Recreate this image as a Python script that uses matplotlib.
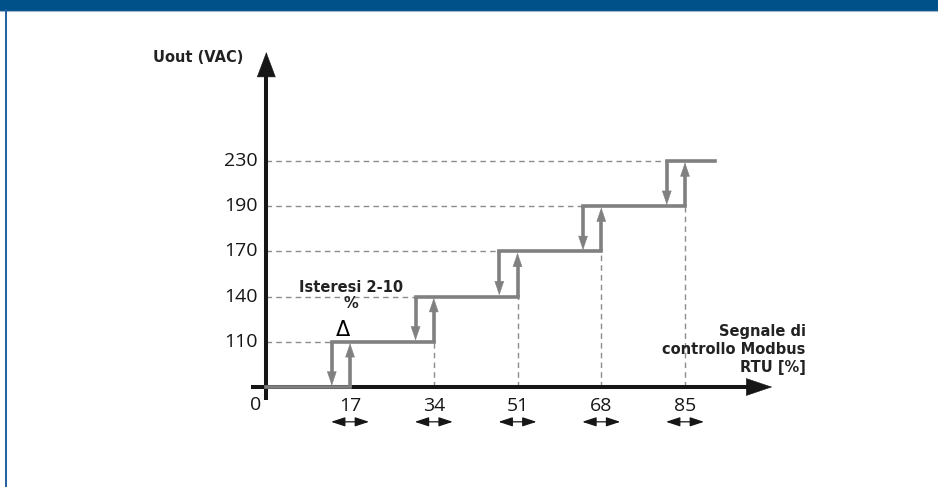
import matplotlib
matplotlib.use("Agg")
import matplotlib.pyplot as plt
from matplotlib.patches import Rectangle
from matplotlib.lines import Line2D

# data
level_labels = ["0", "110", "140", "170", "190", "230"]   # Uout (VAC) per step
switch_on = [17, 34, 51, 68, 85]                         # rising thresholds (%)
hyst = 3.7                                               # hysteresis offset (%)
x_end = 91                                               # end of last step (%)

grey = "#808080"
dash_grey = "#8c8c8c"
black = "#161616"

fig = plt.figure(figsize=(9.38, 4.87), dpi=100)

# header bar and left border
fig.patches.append(Rectangle((0, 1 - 10 / 487), 1, 10 / 487, transform=fig.transFigure,
                             color="#00508a", zorder=0))
fig.lines.append(Line2D([0, 1], [1 - 10.5 / 487] * 2, transform=fig.transFigure,
                        color="#9fb7cc", lw=0.8))
fig.lines.append(Line2D([6.2 / 938] * 2, [0, 1 - 10 / 487], transform=fig.transFigure,
                        color="#1f5f9f", lw=1.4))

ax = fig.add_axes([246.6 / 938, 0.1125, 532 / 938, 0.7982])
ax.set_xlim(-4, 104)
ax.set_ylim(-1.0, 7.6)
ax.axis("off")


def head(x0, y0, x1, y1, color, hl, hw, z):
    # filled arrow head only, tip at (x1, y1)
    ax.annotate("", xy=(x1, y1), xytext=(x0, y0),
                arrowprops=dict(arrowstyle=f"-|>,head_length={hl},head_width={hw}",
                                mutation_scale=10, lw=0.4, color=color,
                                shrinkA=0, shrinkB=0), zorder=z)


n = len(switch_on)
switch_off = [x - hyst for x in switch_on]

# dashed guides
for k in range(1, n + 1):
    ax.plot([0, switch_off[k - 1]], [k, k], ls=(0, (4, 3)), lw=1.0, color=dash_grey, zorder=1)
for k in range(2, n + 1):
    ax.plot([switch_on[k - 1]] * 2, [0, k - 1], ls=(0, (4, 3)), lw=1.0, color=dash_grey, zorder=1)

# axes arrows
ax.plot([0, 0], [-0.29, 7.0], color=black, lw=2.9, solid_capstyle="butt", zorder=3)
head(0, 6.9, 0, 7.41, black, 1.73, 0.65, 3)
ax.plot([-3.2, 98.5], [0, 0], color=black, lw=2.9, solid_capstyle="butt", zorder=3)
head(97.5, 0, 102.7, 0, black, 1.8, 0.61, 3)

# step levels
starts = [0] + switch_off
ends = switch_on + [x_end]
for k in range(n + 1):
    ax.plot([starts[k], ends[k]], [k, k], color=grey, lw=2.6,
            solid_capstyle="projecting", zorder=4)

# hysteresis arrows
for k in range(1, n + 1):
    xd = switch_off[k - 1]
    ax.plot([xd, xd], [k, k - 1 + 0.3], color=grey, lw=2.6, solid_capstyle="butt", zorder=5)
    head(xd, k - 1 + 0.4, xd, k - 1 + 0.03, grey, 0.94, 0.32, 5)
    xu = switch_on[k - 1]
    ax.plot([xu, xu], [k - 1, k - 0.3], color=grey, lw=2.6, solid_capstyle="butt", zorder=5)
    head(xu, k - 0.4, xu, k - 0.03, grey, 0.94, 0.32, 5)

# small double arrows under x ticks
for x in switch_on:
    ax.annotate("", xy=(x + 3.86, -0.77), xytext=(x - 3.86, -0.77),
                arrowprops=dict(arrowstyle="<|-|>,head_length=0.85,head_width=0.28",
                                mutation_scale=10, lw=0.9, color=black,
                                shrinkA=0, shrinkB=0))

# tick labels
num_font = dict(family=["Open Sans", "DejaVu Sans"], fontsize=14, color=black)
for k in range(1, n + 1):
    ax.text(-1.75, k, level_labels[k], ha="right", va="center", **num_font)
for x in switch_on:
    ax.text(x, -0.42, str(x), ha="center", va="center", **num_font)
ax.text(-2.15, -0.40, level_labels[0], ha="center", va="center", **num_font)

# annotations
bold = dict(family="DejaVu Sans", fontweight="bold", fontsize=10.5, color="#222222")
ax.text(-13.9, 7.28, "Uout (VAC)", ha="center", va="center", **bold)
ax.text(109.5, 0.84, "Segnale di\ncontrollo Modbus\nRTU [%]", ha="right", va="center",
        linespacing=1.25, **bold)
ax.text(17.2, 2.02, "Isteresi 2-10\n%", ha="center", va="center", linespacing=1.1, **bold)
ax.text(15.5, 1.26, "Δ", ha="center", va="center", fontsize=15, color="black",
        family="DejaVu Sans")

fig.savefig("out.png", dpi=100)
